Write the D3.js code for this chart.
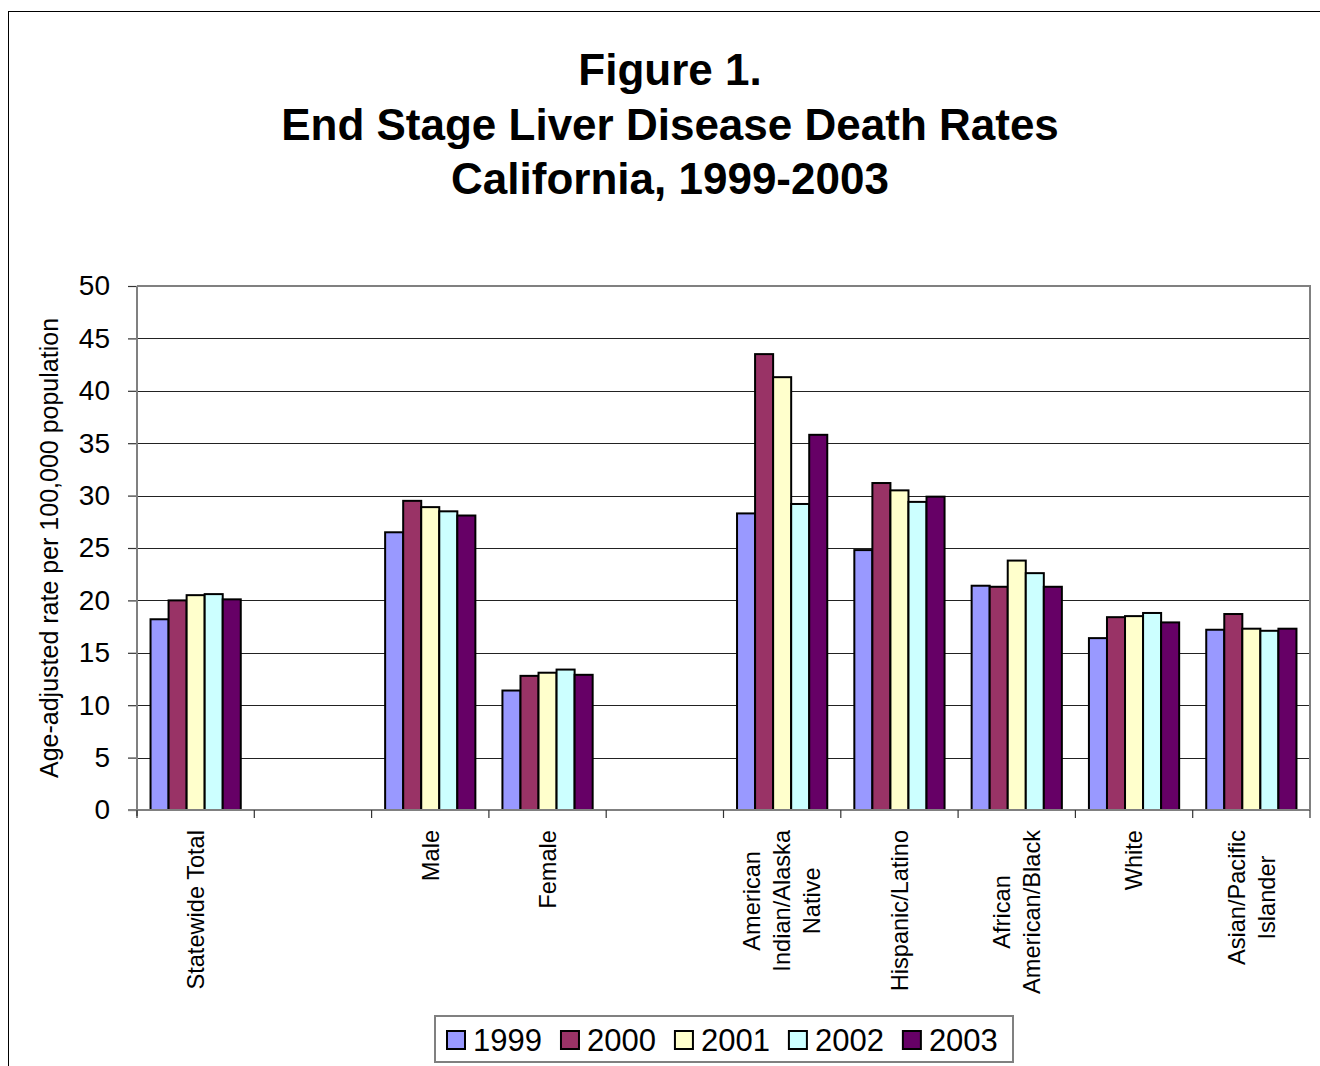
<!DOCTYPE html>
<html>
<head>
<meta charset="utf-8">
<script src="https://cdn.jsdelivr.net/npm/d3@7"></script>
<style>
  html, body { margin: 0; padding: 0; background: #fff; }
  svg { display: block; font-family: "Liberation Sans", Arial, sans-serif; }
</style>
</head>
<body>
<svg id="chart" width="1320" height="1066"></svg>
<script>
// Category slots along the x axis; empty strings are spacer slots between groups.
const categories = [
  "Statewide Total",
  "",
  "Male",
  "Female",
  "",
  "American\nIndian/Alaska\nNative",
  "Hispanic/Latino",
  "African\nAmerican/Black",
  "White",
  "Asian/Pacific\nIslander"
];

const years = ["1999", "2000", "2001", "2002", "2003"];

// Age-adjusted death rates per 100,000, one array per year (null = spacer slot).
const rates1999 = [18.2, null, 26.5, 11.4, null, 28.3, 24.8, 21.4, 16.4, 17.2];
const rates2000 = [20.0, null, 29.5, 12.8, null, 43.5, 31.2, 21.3, 18.4, 18.7];
const rates2001 = [20.5, null, 28.9, 13.1, null, 41.3, 30.5, 23.8, 18.5, 17.3];
const rates2002 = [20.6, null, 28.5, 13.4, null, 29.2, 29.4, 22.6, 18.8, 17.1];
const rates2003 = [20.1, null, 28.1, 12.9, null, 35.8, 29.9, 21.3, 17.9, 17.3];

const yTicks = [0, 5, 10, 15, 20, 25, 30, 35, 40, 45, 50];

const titleLines = ["Figure 1.", "End Stage Liver Disease Death Rates", "California, 1999-2003"];
const yAxisTitle = "Age-adjusted rate per 100,000 population";

const seriesColors = ["#9999FF", "#993366", "#FFFFCC", "#CCFFFF", "#660066"];

const series = [rates1999, rates2000, rates2001, rates2002, rates2003];

const svg = d3.select("#chart");

// Outer chart frame
svg.append("rect")
  .attr("x", 8.5).attr("y", 11.5)
  .attr("width", 1330).attr("height", 1080)
  .attr("fill", "none").attr("stroke", "#000").attr("stroke-width", 1);

// Title
svg.append("g")
  .selectAll("text")
  .data(titleLines)
  .join("text")
  .attr("x", 670)
  .attr("y", (d, i) => 85 + i * 54.5)
  .attr("text-anchor", "middle")
  .attr("font-size", 44)
  .attr("font-weight", "bold")
  .attr("fill", "#000")
  .text(d => d);

// Plot area
const plot = { left: 137, right: 1310, top: 286, bottom: 810 };

const x0 = d3.scaleBand()
  .domain(d3.range(categories.length))
  .range([plot.left, plot.right])
  .paddingInner(0).paddingOuter(0);

const x1 = d3.scaleBand()
  .domain(years)
  .range([0, x0.bandwidth()])
  .paddingInner(0).paddingOuter(0.75);

const y = d3.scaleLinear().domain([0, 50]).range([plot.bottom, plot.top]);

// Horizontal gridlines
svg.append("g")
  .selectAll("line")
  .data(yTicks.filter(t => t > 0 && t < 50))
  .join("line")
  .attr("x1", plot.left).attr("x2", plot.right)
  .attr("y1", d => Math.round(y(d)) + 0.5).attr("y2", d => Math.round(y(d)) + 0.5)
  .attr("stroke", "#222").attr("stroke-width", 1.2);

// Plot border (top and right) in grey
svg.append("path")
  .attr("d", `M${plot.left},${plot.top} H${plot.right} V${plot.bottom}`)
  .attr("fill", "none").attr("stroke", "#808080").attr("stroke-width", 2);

// Bars
const barData = [];
categories.forEach((c, ci) => {
  years.forEach((yr, si) => {
    const v = series[si][ci];
    if (v != null) barData.push({ ci, yr, si, v });
  });
});

svg.append("g")
  .selectAll("rect")
  .data(barData)
  .join("rect")
  .attr("x", d => x0(d.ci) + x1(d.yr))
  .attr("y", d => y(d.v))
  .attr("width", x1.bandwidth())
  .attr("height", d => y(0) - y(d.v))
  .attr("fill", d => seriesColors[d.si])
  .attr("stroke", "#000")
  .attr("stroke-width", 2);

// Y axis
const yAxis = d3.axisLeft(y).tickValues(yTicks).tickSize(9).tickPadding(18).tickFormat(d3.format("d"));
const gy = svg.append("g")
  .attr("transform", `translate(${plot.left},0)`)
  .call(yAxis);
gy.select(".domain").remove();
gy.selectAll(".tick line").attr("stroke", "#333").attr("stroke-width", 1.2);
gy.selectAll(".tick text")
  .attr("font-size", 28)
  .attr("font-family", "'Liberation Sans', Arial, sans-serif")
  .attr("fill", "#000");
svg.append("line")
  .attr("x1", plot.left).attr("x2", plot.left)
  .attr("y1", plot.top).attr("y2", plot.bottom + 6)
  .attr("stroke", "#808080").attr("stroke-width", 2);

// X axis line and category boundary ticks
svg.append("line")
  .attr("x1", plot.left - 9).attr("x2", plot.right)
  .attr("y1", plot.bottom).attr("y2", plot.bottom)
  .attr("stroke", "#808080").attr("stroke-width", 2);

const boundaries = d3.range(categories.length + 1).map(i =>
  i < categories.length ? x0(i) : x0(categories.length - 1) + x0.bandwidth());
svg.append("g")
  .selectAll("line")
  .data(boundaries)
  .join("line")
  .attr("x1", d => d).attr("x2", d => d)
  .attr("y1", plot.bottom).attr("y2", plot.bottom + 8)
  .attr("stroke", "#333").attr("stroke-width", 1.2);

// Rotated category labels (multi-line labels are centred line by line)
const labelTop = 830;
const labelFont = 23.6;
const lineStep = 30;
const labelG = svg.append("g");
categories.forEach((c, ci) => {
  if (!c) return;
  const lines = c.split("\n");
  const cx = x0(ci) + x0.bandwidth() / 2;
  const texts = lines.map((ln, li) => {
    const lx = cx + (li - (lines.length - 1) / 2) * lineStep;
    return labelG.append("text")
      .attr("font-size", labelFont)
      .attr("fill", "#000")
      .attr("text-anchor", "middle")
      .attr("dy", "0.35em")
      .attr("data-lx", lx)
      .text(ln);
  });
  const maxW = d3.max(texts, t => t.node().getComputedTextLength());
  const cy = labelTop + maxW / 2;
  texts.forEach(t => {
    const lx = +t.attr("data-lx");
    t.attr("transform", `translate(${lx},${cy}) rotate(-90)`).attr("data-lx", null);
  });
});

// Y axis title
svg.append("text")
  .attr("transform", `translate(58,${(plot.top + plot.bottom) / 2}) rotate(-90)`)
  .attr("text-anchor", "middle")
  .attr("font-size", 25)
  .attr("fill", "#000")
  .text(yAxisTitle);

// Legend
const legend = svg.append("g");
legend.append("rect")
  .attr("x", 435).attr("y", 1016)
  .attr("width", 578).attr("height", 46)
  .attr("fill", "#fff").attr("stroke", "#808080").attr("stroke-width", 2);

let lxPos = 447;
years.forEach((yr, i) => {
  legend.append("rect")
    .attr("x", lxPos).attr("y", 1031)
    .attr("width", 18).attr("height", 18)
    .attr("fill", seriesColors[i]).attr("stroke", "#000").attr("stroke-width", 2);
  const t = legend.append("text")
    .attr("x", lxPos + 26).attr("y", 1051)
    .attr("font-size", 31)
    .attr("fill", "#000")
    .text(yr);
  lxPos += 26 + t.node().getComputedTextLength() + 19;
});
</script>
</body>
</html>
